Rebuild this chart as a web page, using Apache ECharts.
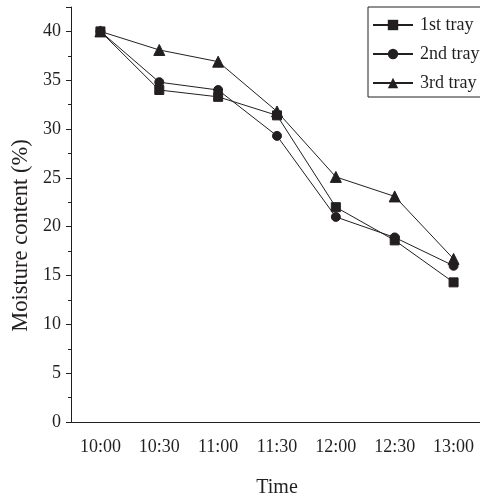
<!DOCTYPE html>
<html>
<head>
<meta charset="utf-8">
<script src="https://cdn.jsdelivr.net/npm/echarts@6/dist/echarts.min.js"></script>
<style>
  html, body { margin: 0; padding: 0; background: #fff; }
  #chart { width: 480px; height: 496px; }
</style>
</head>
<body>
<div id="chart"></div>
<script>
// Sampling times (half-hour steps)
const times = ['10:00', '10:30', '11:00', '11:30', '12:00', '12:30', '13:00'];

// Moisture content (%) per tray
const tray1 = [40.0, 34.0, 33.3, 31.4, 22.0, 18.6, 14.3];
const tray2 = [40.0, 34.8, 34.0, 29.3, 21.0, 18.9, 16.0];
const tray3 = [40.0, 38.1, 36.9, 31.8, 25.1, 23.1, 16.7];

const seriesNames = ['1st tray', '2nd tray', '3rd tray'];
const seriesSymbols = ['rect', 'circle', 'triangle'];

const ink = '#231f20';
const serif = 'Liberation Serif, Times New Roman, serif';

const chart = echarts.init(document.getElementById('chart'), null, { renderer: 'canvas' });

const values = [tray1, tray2, tray3];

chart.setOption({
  animation: false,
  backgroundColor: '#fff',
  textStyle: { fontFamily: serif, color: ink },
  grid: { left: 71, top: 7, width: 412, bottom: 74, containLabel: false, outerBoundsMode: 'none' },
  legend: {
    orient: 'vertical',
    left: 368,
    top: 7,
    width: 111,
    padding: [9, 4, 5, 4],
    itemGap: 11,
    itemWidth: 40,
    itemHeight: 13,
    borderColor: ink,
    borderWidth: 1,
    textStyle: { fontFamily: serif, fontSize: 18, color: ink, padding: [0, 0, 0, 2] },
    data: seriesNames
  },
  xAxis: [
    {
      type: 'category',
      data: times,
      boundaryGap: true,
      position: 'bottom',
      name: 'Time',
      nameLocation: 'middle',
      nameGap: 56,
      nameTextStyle: { fontFamily: serif, fontSize: 20, color: ink },
      axisLine: { lineStyle: { color: ink, width: 1 } },
      axisTick: { alignWithLabel: true, length: 7, lineStyle: { color: ink } },
      axisLabel: { fontFamily: serif, fontSize: 18, color: ink, margin: 16 },
      splitLine: { show: false }
    },
    {
      // half-hour boundary ticks between labels
      type: 'category',
      data: times,
      boundaryGap: true,
      position: 'bottom',
      axisLine: { show: false },
      axisTick: { alignWithLabel: false, length: 4, lineStyle: { color: ink } },
      axisLabel: { show: false },
      splitLine: { show: false }
    }
  ],
  yAxis: {
    type: 'value',
    min: 0,
    max: 42.5,
    interval: 5,
    name: 'Moisture content (%)',
    nameLocation: 'middle',
    nameGap: 32,
    nameTextStyle: { fontFamily: serif, fontSize: 22.5, color: ink, padding: [0, 42, 0, 0] },
    axisLine: { show: true, lineStyle: { color: ink, width: 1 } },
    axisTick: { show: true, length: 5, lineStyle: { color: ink } },
    minorTick: { show: true, splitNumber: 2, length: 3, lineStyle: { color: ink } },
    axisLabel: {
      fontFamily: serif, fontSize: 18, color: ink, margin: 10,
      formatter: v => (v % 5 === 0 ? String(v) : '')
    },
    splitLine: { show: false },
    minorSplitLine: { show: false }
  },
  series: values.map((vals, i) => ({
    name: seriesNames[i],
    type: 'line',
    xAxisIndex: 0,
    data: vals,
    symbol: seriesSymbols[i],
    symbolSize: i === 2 ? 11 : 9,
    showAllSymbol: true,
    lineStyle: { color: ink, width: 1 },
    itemStyle: { color: ink, borderColor: ink },
    emphasis: { disabled: true }
  }))
});
</script>
</body>
</html>
